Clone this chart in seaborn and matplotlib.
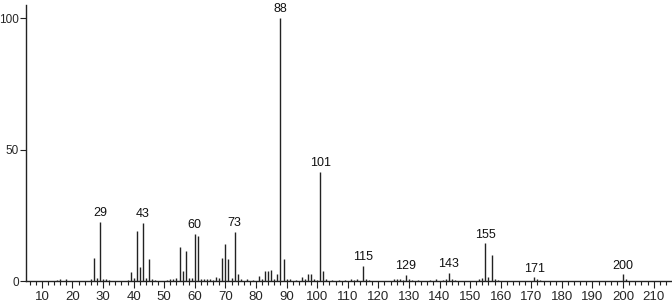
import matplotlib
matplotlib.use("Agg")
import matplotlib.pyplot as plt
import seaborn as sns
import numpy as np

# m/z values and relative intensities
mz = [15, 16, 18, 26, 27, 28, 29, 30, 31, 32,
      38, 39, 40, 41, 42, 43, 44, 45, 46, 47,
      51, 52, 53, 54, 55, 56, 57, 58, 59, 60, 61, 62, 63, 64, 65, 66, 67, 68,
      69, 70, 71, 72, 73, 74, 75, 77, 79, 81, 82, 83, 84, 85, 86, 87,
      88, 89, 90, 91, 93, 95, 96, 97, 98, 99, 100, 101, 102, 103, 105,
      107, 109, 111, 112, 113, 115, 116, 117, 125, 126, 127, 128, 129, 130, 131,
      133, 137, 139, 141, 142, 143, 144, 145, 153, 154, 155, 156, 157, 158,
      159, 171, 172, 173, 200, 201]
intensity = [0.5, 0.6, 0.6, 0.8, 8.7, 1.2, 22.4, 0.8, 0.7, 0.5,
             0.5, 3.4, 1.0, 19.0, 5.3, 22.0, 1.2, 8.4, 0.6, 0.4,
             0.5, 0.6, 0.8, 1.0, 13.0, 3.8, 11.4, 1.0, 1.2, 17.9, 17.1, 0.9, 0.6, 0.6, 0.8, 0.5, 1.6, 1.2,
             8.7, 14.0, 8.4, 1.0, 18.6, 2.7, 0.8, 0.6, 0.5, 1.9, 0.8, 3.9, 3.9, 4.2, 0.8, 2.7,
             100.0, 8.4, 0.8, 0.6, 0.5, 1.4, 0.7, 2.7, 2.7, 0.6, 0.5, 41.4, 3.9, 0.6, 0.4,
             0.5, 0.5, 0.7, 0.5, 0.6, 5.8, 0.9, 0.4, 0.6, 0.8, 0.6, 0.5, 2.2, 0.7, 0.4,
             0.4, 0.5, 0.6, 0.5, 0.6, 3.2, 0.8, 0.4, 0.8, 1.2, 14.3, 1.4, 9.8, 0.8,
             0.4, 1.4, 0.7, 0.4, 2.5, 0.6]

label_mz = [29, 43, 60, 73, 88, 101, 115, 129, 143, 155, 171, 200]
x_ticks = list(range(10, 211, 10))
y_ticks = [0, 50, 100]

sns.set_theme(style="ticks")
plt.rcParams['font.family'] = ['Liberation Sans', 'DejaVu Sans']

fig = plt.figure(figsize=(6.72, 3.04), dpi=100)
ax = fig.add_axes([26/672, 23/304, 1 - 26/672, 276/304])

ax.vlines(mz, 0, intensity, colors="#222222", linewidth=1.0)

lookup = dict(zip(mz, intensity))
for m in label_mz:
    ax.annotate(str(m), (m, lookup[m]), xytext=(0, 2), textcoords="offset points",
                ha="center", va="bottom", fontsize=9, color="#111111")

ax.set_xlim(4.8, 216)
ax.set_ylim(0, 105)
ax.set_xticks(x_ticks)
ax.set_xticks(list(range(6, 216, 2)), minor=True)
ax.set_yticks(y_ticks)
ax.tick_params(axis="x", which="major", length=5, width=0.8, labelsize=9.5, pad=2, color="#222222")
ax.tick_params(axis="x", which="minor", length=3, width=0.8, color="#222222")
ax.tick_params(axis="y", which="major", length=4, width=0.8, labelsize=8.5, pad=1, color="#222222")
for s in ["top", "right"]:
    ax.spines[s].set_visible(False)
for s in ["left", "bottom"]:
    ax.spines[s].set_color("#222222")
    ax.spines[s].set_linewidth(1.0)
ax.grid(False)

fig.savefig("out.png", dpi=100)
